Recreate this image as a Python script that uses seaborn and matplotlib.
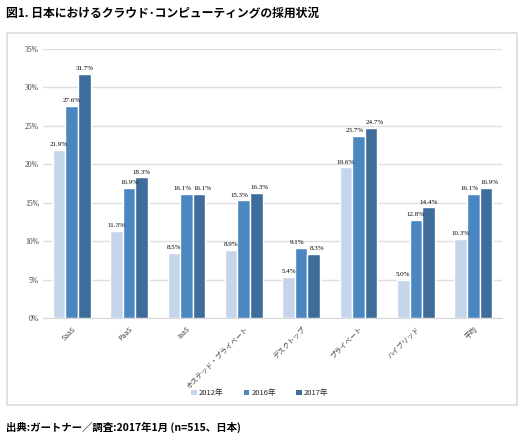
### Cloud computing adoption in Japan (grouped bars) ###

import matplotlib
matplotlib.use("Agg")
import matplotlib.pyplot as plt
from matplotlib.patches import Rectangle
import pandas as pd
import seaborn as sns

# data
categories = ["SaaS", "PaaS", "IaaS", "ホステッド・プライベート", "デスクトップ",
              "プライベート", "ハイブリッド", "平均"]
years = ["2012年", "2016年", "2017年"]
vals_2012 = [21.9, 11.3, 8.5, 8.9, 5.4, 19.6, 5.0, 10.3]
vals_2016 = [27.6, 16.9, 16.1, 15.3, 9.1, 23.7, 12.8, 16.1]
vals_2017 = [31.7, 18.3, 16.1, 16.3, 8.3, 24.7, 14.4, 16.9]
y_ticks = [0, 5, 10, 15, 20, 25, 30, 35]

colors = ["#c5d5ea", "#4a86bf", "#3e6d9c"]

rows = []
for year, vals in zip(years, [vals_2012, vals_2016, vals_2017]):
    for cat, v in zip(categories, vals):
        rows.append({"cat": cat, "year": year, "val": v})
df = pd.DataFrame(rows)

sns.set_style("white")
plt.rcParams["font.family"] = ["Noto Sans CJK JP", "DejaVu Sans"]

fig = plt.figure(figsize=(5.25, 4.4), dpi=100)
ax = fig.add_axes([0.082, 0.277, 0.874, 0.612])

# frame around the chart area
fig.patches.append(Rectangle((7 / 525, 1 - 405 / 440), 510 / 525, 372 / 440,
                             transform=fig.transFigure, fill=False,
                             edgecolor="#dcdcdc", linewidth=1.2, zorder=0))

sns.barplot(data=df, x="cat", y="val", hue="year", palette=colors, width=0.66,
            saturation=1, edgecolor="white", linewidth=1.0, ax=ax, zorder=3)

labels = []
for cont in ax.containers:
    labels.append(ax.bar_label(cont, fmt="%.1f%%", fontsize=5, color="black",
                               family="Liberation Serif", padding=2))

# nudge the 2016/2017 labels apart where the bars are almost equal height
for i in range(len(categories)):
    if abs(vals_2016[i] - vals_2017[i]) < 1.2:
        labels[1][i].xyann = (-3, 2)
        labels[2][i].xyann = (2.5, 2)

ax.set_ylim(0, 35)
ax.set_yticks(y_ticks)
ax.set_yticklabels(["{}%".format(t) for t in y_ticks], fontsize=5.5,
                   family="Liberation Serif", color="#404040")
ax.yaxis.grid(True, color="#e0e0e0", linewidth=1.0, zorder=0)
ax.set_axisbelow(True)
for s in ["top", "right", "left"]:
    ax.spines[s].set_visible(False)
ax.spines["bottom"].set_color("#d9d9d9")
ax.tick_params(axis="y", length=0, pad=3)
ax.tick_params(axis="x", length=0, pad=5)
ax.set_xticks(range(len(categories)))
ax.set_xticklabels(categories, rotation=45, ha="right", rotation_mode="anchor",
                   fontsize=5, color="#404040")
ax.set_xlabel("")
ax.set_ylabel("")

leg = ax.legend(loc="center", bbox_to_anchor=(0.495, 1 - 393 / 440),
                bbox_transform=fig.transFigure, ncol=3, frameon=False,
                fontsize=5.5, handlelength=0.75, handleheight=0.75,
                columnspacing=2.6, handletextpad=0.3)
for h in leg.legend_handles:
    h.set_linewidth(0)

fig.text(0.012, 1 - 13 / 440, "図1. 日本におけるクラウド･コンピューティングの採用状況",
         fontsize=8.5, fontweight="bold", va="center", ha="left", color="black")
fig.text(0.012, 1 - 427 / 440, "出典:ガートナー／調査:2017年1月 (n=515、日本)",
         fontsize=7.5, fontweight="bold", va="center", ha="left", color="black")

plt.savefig("out.png", dpi=100)
